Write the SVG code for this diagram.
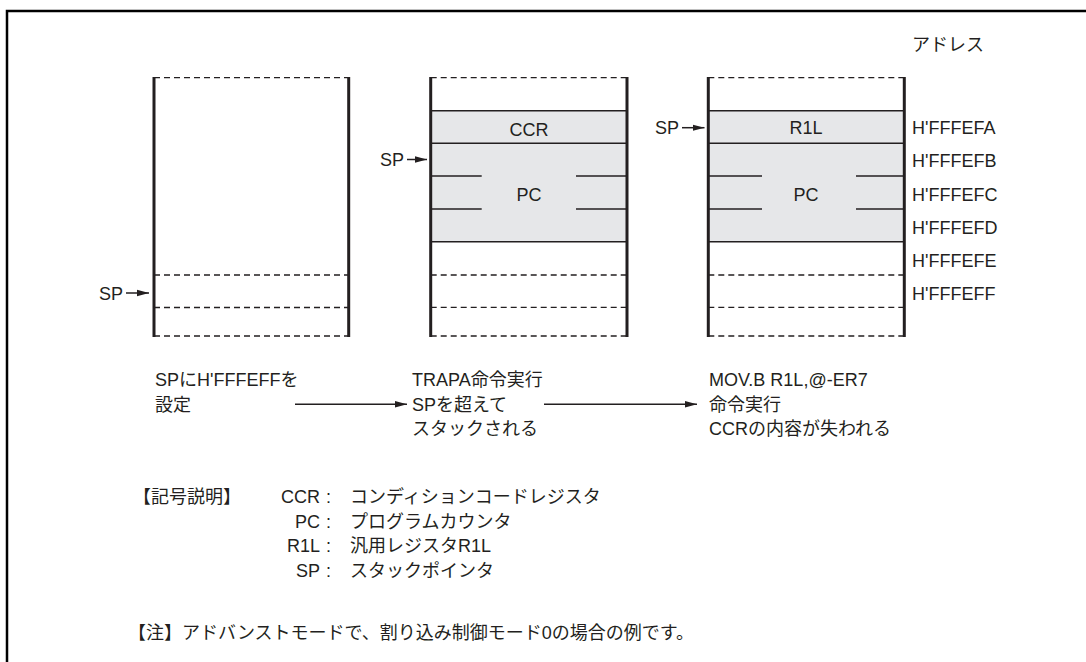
<svg xmlns="http://www.w3.org/2000/svg" width="1086" height="662" viewBox="0 0 1086 662">
<style>
text{font-family:"Liberation Sans","Noto Sans CJK JP",sans-serif;font-size:18px;fill:#231f20}
.c{text-anchor:middle}
.e{text-anchor:end}
.v{stroke:#231f20;stroke-width:3;fill:none}
.s{stroke:#231f20;stroke-width:1.5;fill:none}
.d{stroke:#231f20;stroke-width:1.3;stroke-dasharray:6 4;fill:none}
.g{fill:#e6e7e9;stroke:none}
.a{stroke:#231f20;stroke-width:1.5;fill:none}
</style>
<defs>
<marker id="ah" markerWidth="12" markerHeight="8" refX="12" refY="4" orient="auto" markerUnits="userSpaceOnUse">
<path d="M0,0.8 L12,4 L0,7.2 Z" fill="#231f20"/>
</marker>
</defs>
<rect width="1086" height="662" fill="#fff"/>
<g id="frame">
<path d="M7,662 V11 H1086" stroke="#000" stroke-width="2.5" fill="none"/>
</g>
<g id="address-label"><text x="912" y="51">アドレス</text></g>

<g id="stack1">
<line class="d" x1="154" y1="77.7" x2="348.7" y2="77.7"/>
<line class="d" x1="154" y1="275" x2="348.7" y2="275"/>
<line class="d" x1="154" y1="307.5" x2="348.7" y2="307.5"/>
<line class="d" x1="154" y1="336" x2="348.7" y2="336"/>
<line class="v" x1="154" y1="77" x2="154" y2="337"/>
<line class="v" x1="348.7" y1="77" x2="348.7" y2="337"/>
</g>

<g id="stack2">
<rect class="g" x="430.7" y="110.7" width="196.3" height="131"/>
<line class="d" x1="430.7" y1="77.7" x2="627" y2="77.7"/>
<line class="s" x1="430.7" y1="110.7" x2="627" y2="110.7"/>
<line class="s" x1="430.7" y1="143.3" x2="627" y2="143.3"/>
<line class="s" x1="430.7" y1="176" x2="481.7" y2="176"/>
<line class="s" x1="576" y1="176" x2="627" y2="176"/>
<line class="s" x1="430.7" y1="209" x2="481.7" y2="209"/>
<line class="s" x1="576" y1="209" x2="627" y2="209"/>
<line class="s" x1="430.7" y1="241.7" x2="627" y2="241.7"/>
<line class="d" x1="430.7" y1="275" x2="627" y2="275"/>
<line class="d" x1="430.7" y1="307.3" x2="627" y2="307.3"/>
<line class="d" x1="430.7" y1="336" x2="627" y2="336"/>
<line class="v" x1="430.7" y1="77" x2="430.7" y2="337"/>
<line class="v" x1="627" y1="77" x2="627" y2="337"/>
<text class="c" x="529" y="135.5">CCR</text>
<text class="c" x="529" y="200.5">PC</text>
</g>

<g id="stack3">
<rect class="g" x="708.3" y="110.7" width="196" height="131"/>
<line class="d" x1="708.3" y1="77.7" x2="904.3" y2="77.7"/>
<line class="s" x1="708.3" y1="110.7" x2="904.3" y2="110.7"/>
<line class="s" x1="708.3" y1="143.3" x2="904.3" y2="143.3"/>
<line class="s" x1="708.3" y1="176" x2="762" y2="176"/>
<line class="s" x1="856" y1="176" x2="904.3" y2="176"/>
<line class="s" x1="708.3" y1="209" x2="762" y2="209"/>
<line class="s" x1="856" y1="209" x2="904.3" y2="209"/>
<line class="s" x1="708.3" y1="241.7" x2="904.3" y2="241.7"/>
<line class="d" x1="708.3" y1="275" x2="904.3" y2="275"/>
<line class="d" x1="708.3" y1="307.3" x2="904.3" y2="307.3"/>
<line class="d" x1="708.3" y1="336" x2="904.3" y2="336"/>
<line class="v" x1="708.3" y1="77" x2="708.3" y2="337"/>
<line class="v" x1="904.3" y1="77" x2="904.3" y2="337"/>
<text class="c" x="806" y="134">R1L</text>
<text class="c" x="806" y="200.5">PC</text>
</g>

<g id="addresses">
<text x="912" y="134">H'FFFEFA</text>
<text x="912" y="167">H'FFFEFB</text>
<text x="912" y="200.5">H'FFFEFC</text>
<text x="912" y="233.5">H'FFFEFD</text>
<text x="912" y="266.5">H'FFFEFE</text>
<text x="912" y="299.5">H'FFFEFF</text>
</g>

<g id="sp-labels">
<text x="99" y="299.5">SP</text>
<text x="380" y="166">SP</text>
<text x="655" y="134">SP</text>
</g>

<g id="captions">
<text x="155" y="386">SPにH'FFFEFFを</text>
<text x="155" y="410.5">設定</text>
<text x="412" y="386">TRAPA命令実行</text>
<text x="412" y="410.5">SPを超えて</text>
<text x="412" y="435">スタックされる</text>
<text x="709" y="386">MOV.B R1L,@-ER7</text>
<text x="709" y="410.5">命令実行</text>
<text x="709" y="435">CCRの内容が失われる</text>
</g>

<g id="connectors">
<line class="a" x1="126" y1="293" x2="149" y2="293" marker-end="url(#ah)"/>
<line class="a" x1="407" y1="159.5" x2="427" y2="159.5" marker-end="url(#ah)"/>
<line class="a" x1="682" y1="127.7" x2="704.5" y2="127.7" marker-end="url(#ah)"/>
<line class="a" x1="295" y1="404.3" x2="407" y2="404.3" marker-end="url(#ah)"/>
<line class="a" x1="544" y1="404.3" x2="697" y2="404.3" marker-end="url(#ah)"/>
</g>

<g id="legend">
<text x="133" y="503">【記号説明】</text>
<text class="e" x="320" y="503">CCR</text><text x="326" y="503">:</text><text x="350" y="503">コンディションコードレジスタ</text>
<text class="e" x="320" y="528">PC</text><text x="326" y="528">:</text><text x="350" y="528">プログラムカウンタ</text>
<text class="e" x="320" y="552">R1L</text><text x="326" y="552">:</text><text x="350" y="552">汎用レジスタR1L</text>
<text class="e" x="320" y="577">SP</text><text x="326" y="577">:</text><text x="350" y="577">スタックポインタ</text>
</g>

<g id="note">
<text x="128" y="639">【注】アドバンストモードで、割り込み制御モード0の場合の例です。</text>
</g>
</svg>
